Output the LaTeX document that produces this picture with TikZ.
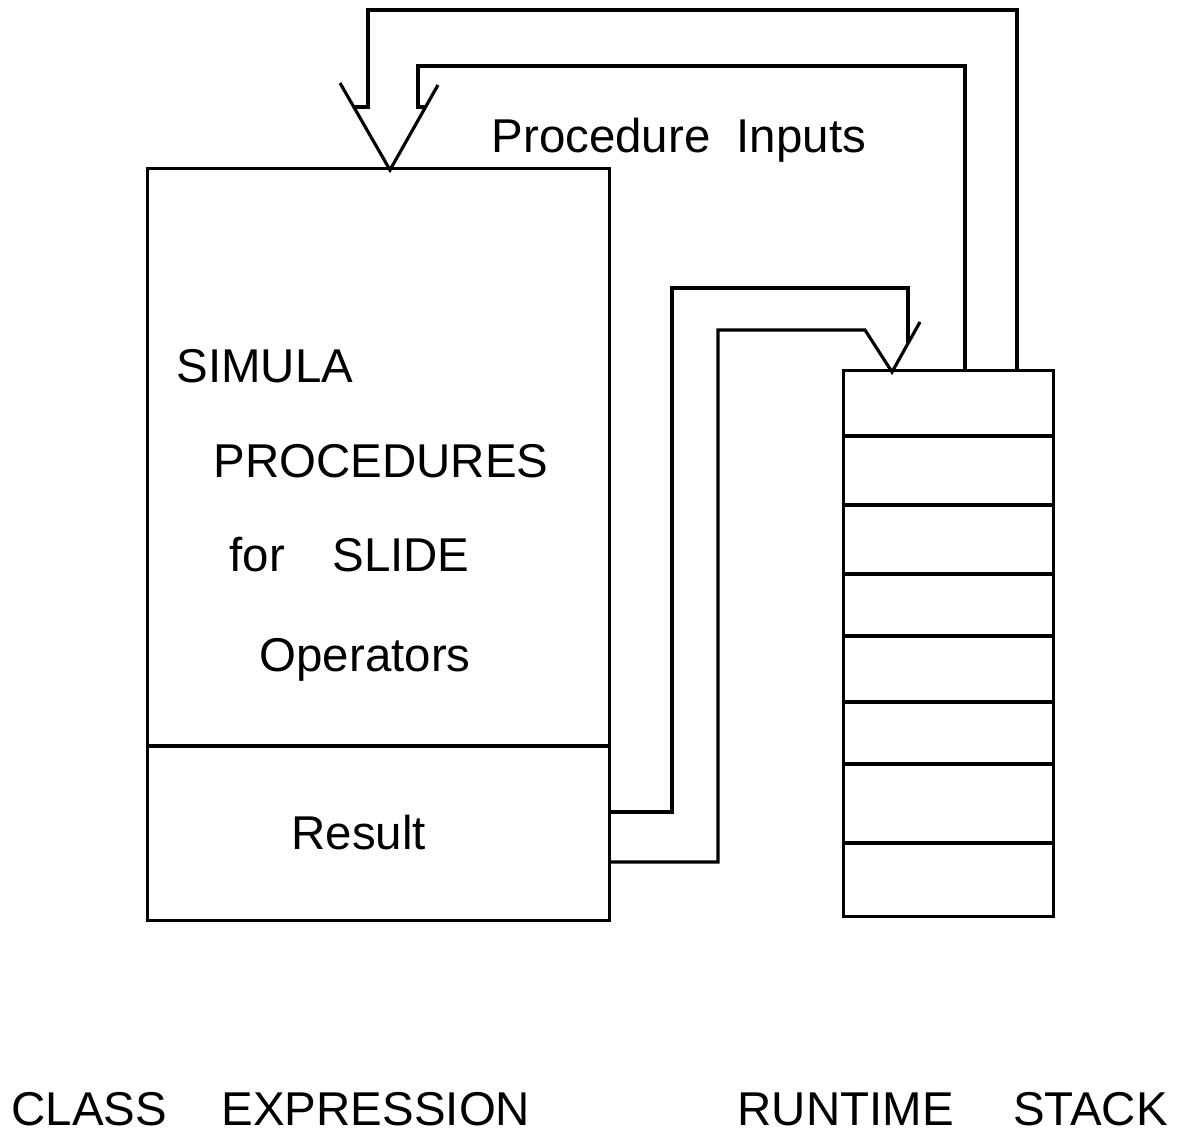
\documentclass[tikz,border=0pt]{standalone}
\usepackage{fontspec}
\setmainfont{Liberation Sans}
\usetikzlibrary{positioning,calc}

\begin{document}
\begin{tikzpicture}[line width=1.8pt,
  box/.style={draw, inner sep=0pt, anchor=south west},
  lbl/.style={inner sep=0pt, anchor=base west, font=\fontsize{27}{31}\selectfont}]
  \useasboundingbox (0,0) rectangle (23.78,22.8);

  % class expression and runtime stack
  \node[box, minimum width=9.24cm, minimum height=15.04cm] (cls) at (2.92,4.36) {};
  \node[box, minimum width=4.2cm, minimum height=10.92cm] (stk) at (16.84,4.44) {};
  \draw (cls.west |- 0,7.88) -- (cls.east |- 0,7.88);
  \foreach \y in {14.08,12.7,11.32,10.08,8.76,7.52,5.94}{
    \draw (stk.west |- 0,\y) -- (stk.east |- 0,\y);
  }

  \coordinate (intip) at (7.8,19.4);
  \coordinate (stktip) at (17.84,15.36);

  % procedure inputs, stack to class
  \draw (stk.north -| 20.34,0) |- (7.36,22.6) |- (7.08,20.66);
  \draw (stk.north -| 19.3,0) |- (8.36,21.48) |- (8.51,20.66);
  \draw (6.8,21.14) -- (intip) -- (8.76,21.1);

  % result, class to stack
  \draw (cls.east |- 0,6.56) -| (13.44,17.04) -| (18.16,15.94);
  \draw (cls.east |- 0,5.56) -| (14.36,16.2) -- (17.3,16.2) -- (stktip) -- (18.4,16.36);

  \node[lbl] (inputs) at (9.8,19.74) {Procedure\ \ Inputs};
  \node[lbl] (simula) at (3.5,15.14) {SIMULA};
  \node[lbl] (procs) at (4.24,13.24) {PROCEDURES};
  \node[lbl] (slide) at (4.56,11.36) {for\quad SLIDE};
  \node[lbl] (ops) at (5.16,9.36) {Operators};
  \node[lbl] (result) at (5.8,5.8) {Result};
  \node[lbl] (clsname) at (0.2,0.28) {CLASS\hspace{1.15em}EXPRESSION};
  \node[lbl] (stkname) at (14.72,0.28) {RUNTIME\hspace{1.25em}STACK};
\end{tikzpicture}
\end{document}
